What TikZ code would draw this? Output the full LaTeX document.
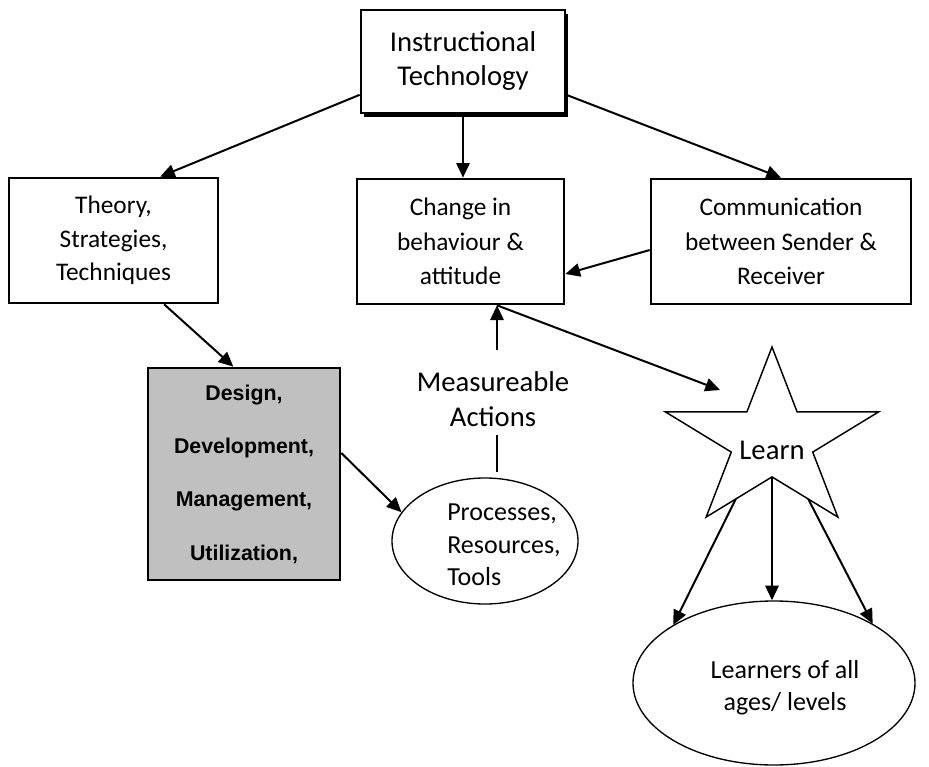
\documentclass[tikz,border=0pt]{standalone}
\usepackage{fontspec}
\setmainfont{Carlito}
\newfontfamily\arialfont{Liberation Sans}
\usetikzlibrary{arrows.meta,shapes.geometric,shadows,calc}
\definecolor{boxgray}{RGB}{192,192,192}
\begin{document}
\begin{tikzpicture}[x=0.75pt,y=-0.75pt,
  box/.style={draw=black,line width=2pt,inner sep=0pt,align=center},
  ell/.style={ellipse,draw=black,line width=1pt,inner sep=0pt},
  arr/.style={line width=1.5pt,-{Triangle[length=11pt,width=10pt]}},
  plain/.style={line width=1.5pt},
  starline/.style={draw=black,line width=1.1pt,line join=miter},
  txt/.style={inner sep=0pt,align=center}]
\fill[white] (0,0) rectangle (929,767);
\path[use as bounding box] (0,0) rectangle (929,767);

% boxes
\node[box,fill=white,general shadow={fill=black,shadow xshift=2.25pt,shadow yshift=-3pt},
  minimum width=153pt,minimum height=77.25pt,font=\fontsize{21.5}{25.5}\selectfont]
  (inst) at (463,61.5) {Instructional\\Technology};
\node[box,minimum width=156.75pt,minimum height=93.75pt,font=\fontsize{19}{25}\selectfont]
  (theory) at (113.5,240.5) {Theory,\\Strategies,\\Techniques};
\node[box,minimum width=155.25pt,minimum height=93.75pt,font=\fontsize{19}{26}\selectfont]
  (change) at (460.5,241.5) {Change in\\behaviour \&\\attitude};
\node[box,minimum width=195pt,minimum height=93.75pt,font=\fontsize{19}{26}\selectfont]
  (comm) at (781,241.5) {Communication\\between Sender \&\\Receiver};
\node[box,fill=boxgray,minimum width=144pt,minimum height=159pt,
  font=\arialfont\bfseries\fontsize{16}{40}\selectfont]
  (gray) at (244,474) {Design,\\Development,\\Management,\\Utilization,};

% ellipses
\node[ell,minimum width=139.5pt,minimum height=94.5pt] (proc) at (485,541) {};
\node[txt,align=left,anchor=west,font=\fontsize{19.5}{24.5}\selectfont]
  (proctext) at (447,545) {Processes,\\Resources,\\Tools};
\node[ell,minimum width=211.5pt,minimum height=123pt] (learners) at (774,683) {};
\node[txt,font=\fontsize{19.5}{24}\selectfont] (learnerstext) at (785,688) {Learners of all\\ages/ levels};

% star
\draw[starline]
  ([shift={(772,441)}]-90:112 and 94) -- ([shift={(772,441)}]-54:42.8 and 35.9) --
  ([shift={(772,441)}]-18:112 and 94) -- ([shift={(772,441)}]18:42.8 and 35.9) --
  ([shift={(772,441)}]54:112 and 94) -- ([shift={(772,441)}]90:42.8 and 35.9) --
  ([shift={(772,441)}]126:112 and 94) -- ([shift={(772,441)}]162:42.8 and 35.9) --
  ([shift={(772,441)}]198:112 and 94) -- ([shift={(772,441)}]234:42.8 and 35.9) -- cycle;
\node[txt,font=\fontsize{21.5}{26}\selectfont] (learn) at (772,450) {Learn};
\coordinate (sbot) at ([shift={(772,441)}]90:42.8 and 35.9);
\coordinate (sbl) at ([shift={(772,441)}]126:112 and 94);
\coordinate (sbr) at ([shift={(772,441)}]54:112 and 94);
\coordinate (learnin) at (720,390);

% measureable
\node[txt,font=\fontsize{21.5}{26}\selectfont] (meas) at (493,399) {Measureable\\Actions};
\coordinate (mup) at (497,350);
\coordinate (mdn) at (497,435);

% connectors
\draw[arr] (inst.south) -- (inst.south |- change.north);
\draw[arr] ([yshift=-25pt]inst.west) -- ([xshift=35pt]theory.north);
\draw[arr] ([yshift=-25pt]inst.east) -- (comm.north);
\draw[arr] ([yshift=-6.4pt]comm.west) -- ([yshift=-24.4pt]change.east);
\draw[arr] ([xshift=38pt]theory.south) -- ([xshift=-8pt]gray.north);
\draw[arr] ([yshift=15.75pt]gray.east) -- (proc.161);
\draw[arr] (mup) -- (change.south -| mup);
\draw[plain] (mdn) -- ($(proc.north -| mdn)+(0,-5)$);
\draw[arr] (change.south -| mup) -- (learnin);
\draw[arr] (sbot) -- (sbot |- learners.north);
\draw[arr] ($(sbot)!0.55!(sbl)$) -- (learners.150);
\draw[arr] ($(sbot)!0.55!(sbr)$) -- (learners.31);
\end{tikzpicture}
\end{document}
